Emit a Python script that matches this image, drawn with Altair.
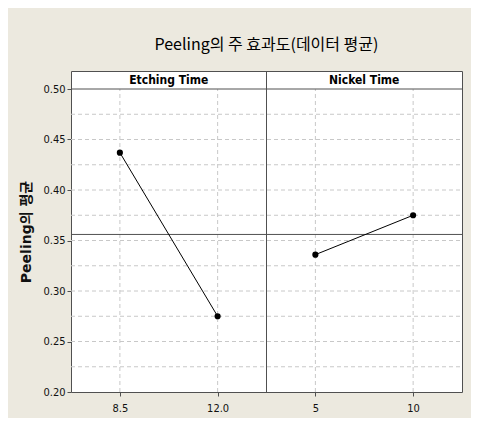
import altair as alt
import pandas as pd
import numpy as np

# ---- data ----
factors = ["Etching Time", "Etching Time", "Nickel Time", "Nickel Time"]
levels = ["8.5", "12.0", "5", "10"]
means = [0.437, 0.275, 0.336, 0.375]
grand_mean = 0.356
y_ticks = [0.20, 0.25, 0.30, 0.35, 0.40, 0.45, 0.50]
title_text = "Peeling의 주 효과도(데이터 평균)"
y_title = "Peeling의 평균"

df = pd.DataFrame({"factor": factors, "level": levels, "mean": means})
df["pos"] = np.arange(len(levels)) + 0.5

panels = list(dict.fromkeys(factors))
hdr = pd.DataFrame({"factor": panels, "xc": [2 * i + 1 for i in range(len(panels))]})

W, H = 391, 321
Y_LO, Y_HI = 0.20, 0.50
HDR_PX = 18
Y_TOP = Y_HI + (Y_HI - Y_LO) * HDR_PX / (H - HDR_PX)
X_MAX = 2 * len(panels)

xs = alt.Scale(domain=[0, X_MAX], nice=False, zero=False)
ys = alt.Scale(domain=[Y_LO, Y_TOP], nice=False, zero=False)

NARROW = "DejaVu Sans Condensed, Liberation Sans Narrow, sans-serif"
BORDER = "#505050"
GRID = "#c8c8c8"

label_js = "[" + ",".join("'" + l + "'" for l in levels) + "][floor(datum.value)]"

AX = alt.Axis(
    values=[float(v) for v in df["pos"]],
    labelExpr=label_js,
    title=None,
    grid=False,
    domain=False,
    ticks=True,
    tickSize=4,
    tickColor=BORDER,
    labelPadding=6,
    labelFont=NARROW,
    labelFontSize=11,
    labelColor="#111111",
)
AY = alt.Axis(
    values=y_ticks,
    format=".2f",
    title=y_title,
    titleFont="DejaVu Sans, Noto Sans CJK KR, sans-serif",
    titleFontSize=14,
    titleFontWeight="bold",
    titleColor="#111111",
    titlePadding=9,
    grid=False,
    domain=False,
    ticks=True,
    tickSize=4,
    tickColor=BORDER,
    labelPadding=2,
    labelFont=NARROW,
    labelFontSize=11,
    labelColor="#111111",
)

grid_y = pd.DataFrame({"g": np.round(np.arange(Y_LO + 0.025, Y_HI - 0.001, 0.025), 3)})

hgrid = alt.Chart(grid_y).mark_rule(color=GRID, strokeDash=[4, 3], strokeWidth=1).encode(
    y=alt.Y("g:Q", scale=ys, axis=AY),
    x=alt.datum(0, scale=xs, axis=AX),
    x2=alt.datum(X_MAX),
)

vgrid = alt.Chart(df).mark_rule(color=GRID, strokeDash=[4, 3], strokeWidth=1).encode(
    x=alt.X("pos:Q", scale=xs, axis=AX),
    y=alt.datum(Y_LO, scale=ys, axis=AY),
    y2=alt.datum(Y_HI),
)

mean_rule = alt.Chart(pd.DataFrame({"m": [grand_mean]})).mark_rule(color=BORDER, strokeWidth=1).encode(
    y=alt.Y("m:Q", scale=ys, axis=AY),
    x=alt.datum(0, scale=xs, axis=AX),
    x2=alt.datum(X_MAX),
)

dividers = pd.DataFrame({"d": [2 * i for i in range(1, len(panels))]})
divider = alt.Chart(dividers).mark_rule(color=BORDER, strokeWidth=1).encode(
    x=alt.X("d:Q", scale=xs, axis=AX),
    y=alt.datum(Y_LO, scale=ys, axis=AY),
    y2=alt.datum(Y_TOP),
)

hdr_line = alt.Chart(pd.DataFrame({"h": [Y_HI]})).mark_rule(color=BORDER, strokeWidth=1).encode(
    y=alt.Y("h:Q", scale=ys, axis=AY),
    x=alt.datum(0, scale=xs, axis=AX),
    x2=alt.datum(X_MAX),
)

lines = alt.Chart(df).mark_line(color="black", strokeWidth=1).encode(
    x=alt.X("pos:Q", scale=xs, axis=AX),
    y=alt.Y("mean:Q", scale=ys, axis=AY),
    detail="factor:N",
)

points = alt.Chart(df).mark_point(filled=True, color="black", size=38, opacity=1).encode(
    x=alt.X("pos:Q", scale=xs, axis=AX),
    y=alt.Y("mean:Q", scale=ys, axis=AY),
)

hdr_text = alt.Chart(hdr).mark_text(
    font=NARROW, fontSize=12, fontWeight="bold", color="black", baseline="middle", align="center"
).encode(
    x=alt.X("xc:Q", scale=xs, axis=AX),
    y=alt.datum((Y_HI + Y_TOP) / 2, scale=ys, axis=AY),
    text="factor:N",
)

chart = alt.layer(
    hgrid, vgrid, mean_rule, divider, hdr_line, lines, points, hdr_text
).properties(
    width=W,
    height=H,
    title=alt.Title(
        title_text,
        font="Noto Sans CJK KR, sans-serif",
        fontSize=16,
        fontWeight="normal",
        color="black",
        anchor="middle",
        offset=18,
    ),
    autosize=alt.AutoSizeParams(type="none"),
    padding={"left": 63, "top": 63, "right": 9, "bottom": 26},
    background="#ECE9DF",
).configure_view(
    fill="white", stroke=BORDER, strokeWidth=1
)

chart.save("out.html", embed_options={"renderer": "svg", "actions": False})
